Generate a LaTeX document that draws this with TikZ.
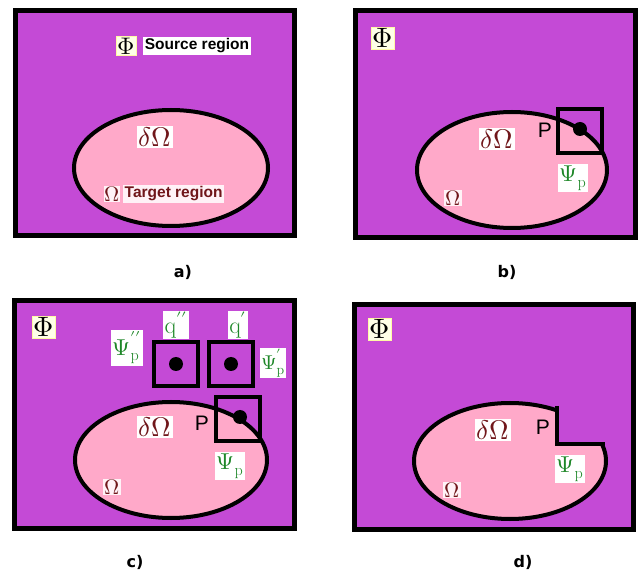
\documentclass[tikz,border=0pt]{standalone}
\usepackage{fontspec}
\usepackage{unicode-math}
\setmathfont{Latin Modern Math}
\newfontfamily\lblfont{DejaVu Sans}
\newfontfamily\arialfont{Liberation Sans}
\definecolor{srcpurple}{RGB}{196,74,214}
\definecolor{tgtpink}{RGB}{255,169,201}
\definecolor{maroon}{RGB}{112,22,26}
\definecolor{psigreen}{RGB}{30,135,40}
\definecolor{phibox}{RGB}{255,255,232}
% primes set a little higher so they clear the subscript
\newcommand{\hiprime}[1]{^{\raisebox{3pt}{$\scriptstyle#1$}}}
\tikzset{
  panel/.style={draw=black, line width=5pt, fill=srcpurple},
  region/.style={draw=black, line width=4pt, fill=tgtpink},
  window/.style={draw=black, line width=4pt, minimum size=44pt, inner sep=0pt},
  seed/.style={circle, fill=black, minimum size=14pt, inner sep=0pt},
  philbl/.style={fill=phibox, draw=yellow!35!white, line width=0.6pt, inner sep=1.5pt,
    font=\fontsize{28}{28}\selectfont},
  domlbl/.style={fill=white, text=maroon, inner sep=1.5pt, font=\fontsize{27}{27}\selectfont},
  omlbl/.style={fill=white!85!tgtpink, text=maroon, inner sep=1pt, font=\fontsize{21}{21}\selectfont},
  psilbl/.style={fill=white, text=psigreen, inner sep=2pt, font=\fontsize{23}{23}\selectfont},
  qlbl/.style={fill=white, text=psigreen, inner sep=1.5pt, font=\fontsize{24}{24}\selectfont},
  plbl/.style={text=black, inner sep=0pt, font=\arialfont\fontsize{21}{21}\selectfont},
  caption/.style={text=black, font=\lblfont\bfseries\fontsize{16}{16}\selectfont},
  wordlbl/.style={fill=white, inner sep=1.5pt, font=\arialfont\bfseries\fontsize{15.5}{16}\selectfont}
}
\begin{document}
\begin{tikzpicture}[x=1pt, y=-1pt]
\useasboundingbox (0,0) rectangle (641,580);

% ---------- a) source and target regions ----------
\draw[panel] (15.5,10.5) rectangle (294.5,235.5);
\draw[region] (171,168) ellipse [x radius=97pt, y radius=58pt];
\node[philbl, font=\fontsize{24}{24}\selectfont] (aphi) at (126,46) {$\Phi$};
\node[wordlbl, text=black] (asrc) at (197,46) {Source region};
\node[domlbl] (adom) at (155,137) {$\delta\Omega$};
\node[omlbl, inner sep=0.5pt] (aom) at (112,194) {$\Omega$};
\node[wordlbl, text=maroon, fill=white!85!tgtpink, anchor=west] (atgt) at (123,194) {Target region};
\node[caption] (capa) at (183,272) {a)};

% ---------- b) patch centred on the fill front ----------
\draw[panel] (355.5,10.5) rectangle (635.5,237.5);
\draw[region] (512,170) ellipse [x radius=95pt, y radius=58pt];
\node[window] (bwin) at (579.5,131.5) {};
\node[seed] (bdot) at (580,129) {};
\node[plbl] (bp) at (545,130) {P};
\node[psilbl] (bpsi) at (573,178) {$\Psi_{\mathrm{p}}$};
\node[domlbl] (bdom) at (497,139) {$\delta\Omega$};
\node[omlbl] (bom) at (453,198) {$\Omega$};
\node[philbl] (bphi) at (383,38) {$\Phi$};
\node[caption] (capb) at (507,272) {b)};

% ---------- c) candidate patches in the source region ----------
\draw[panel] (14.5,300.5) rectangle (294.5,528.5);
\draw[region] (171,460) ellipse [x radius=96pt, y radius=58pt];
\node[window] (cwin2) at (175.5,364) {};
\node[window] (cwin1) at (231,364) {};
\node[window] (cwin) at (238,419.5) {};
\node[seed] (cdot2) at (176,364) {};
\node[seed] (cdot1) at (231,364) {};
\node[seed] (cdot) at (240,417) {};
\node[philbl] (cphi) at (44,327) {$\Phi$};
\node[psilbl] (cpsi2) at (127,348) {$\Psi_{\mathrm{p}}\hiprime{\prime\prime}$};
\node[qlbl] (cq2) at (176,325) {$\mathrm{q}^{\prime\prime}$};
\node[qlbl] (cq1) at (238,325) {$\mathrm{q}^{\prime}$};
\node[psilbl, inner sep=1pt, font=\fontsize{20}{20}\selectfont] (cpsi1) at (273,363) {$\Psi_{\mathrm{p}}\hiprime{\prime}$};
\node[plbl] (cp) at (202,423) {P};
\node[domlbl] (cdom) at (155,427) {$\delta\Omega$};
\node[psilbl] (cpsi) at (230,466) {$\Psi_{\mathrm{p}}$};
\node[omlbl] (com) at (112,487) {$\Omega$};
\node[caption] (capc) at (135,562) {c)};

% ---------- d) region after the patch is copied ----------
\draw[panel] (354.5,304.5) rectangle (633.5,529.5);
\draw[region] (510,461) ellipse [x radius=96pt, y radius=58pt];
\fill[srcpurple] (557,385) rectangle (618,444);
\coordinate (dtop) at (557,406);
\coordinate (dcorner) at (557,444);
\coordinate (dright) at (605,444);
\draw[line width=4pt] (dtop) -- (dcorner) -- (dright);
\node[philbl] (dphi) at (380,329) {$\Phi$};
\node[plbl] (dp) at (543,427) {P};
\node[domlbl] (ddom) at (493,430) {$\delta\Omega$};
\node[psilbl] (dpsi) at (570,469) {$\Psi_{\mathrm{p}}$};
\node[omlbl] (dom) at (452,490) {$\Omega$};
\node[caption] (capd) at (523,562) {d)};
\end{tikzpicture}
\end{document}
